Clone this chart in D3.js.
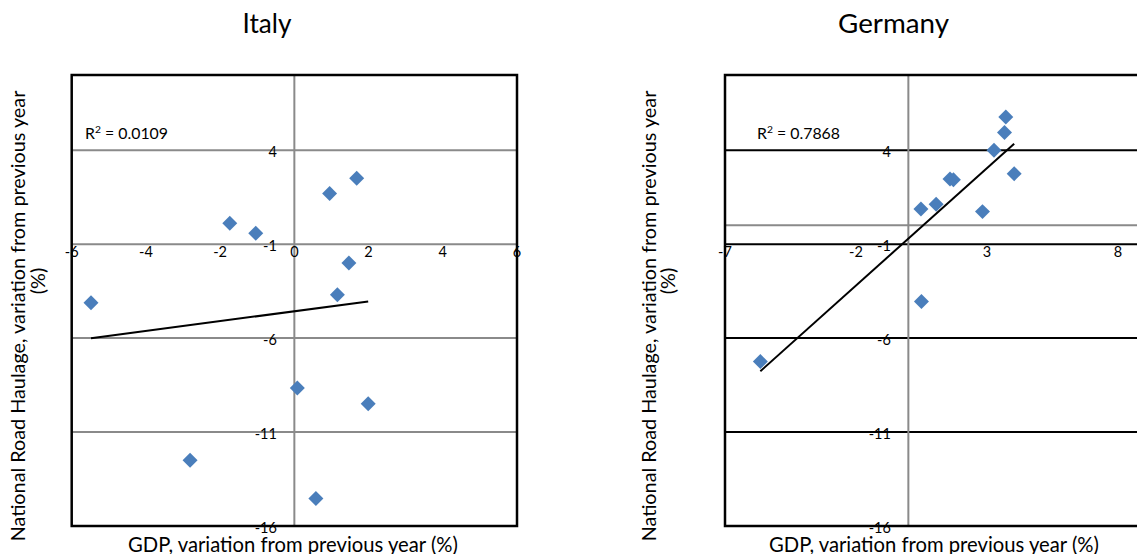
<!DOCTYPE html>
<html>
<head>
<meta charset="utf-8">
<script src="https://cdn.jsdelivr.net/npm/d3@7"></script>
<style>
  html, body { margin: 0; padding: 0; background: #fff; }
  svg { display: block; font-family: "Lato", "Open Sans", sans-serif; }
</style>
</head>
<body>
<svg id="chart" width="1137" height="554"></svg>
<script>
// GDP growth vs. national road haulage growth, year on year (%)
const italyGdp      = [-1.74, -1.04, 0.95, 1.68, 1.47, 1.16, -5.48, 0.08, 1.99, -2.81, 0.58];
const italyHaulage  = [0.11, -0.42, 1.69, 2.50, -2.01, -3.69, -4.12, -8.66, -9.49, -12.50, -14.54];
const germanyGdp     = [3.72, 3.67, 3.27, 4.04, 1.59, 1.72, 1.06, 0.48, 2.83, 0.50, -5.65];
const germanyHaulage = [5.77, 4.94, 3.99, 2.75, 2.47, 2.42, 1.12, 0.87, 0.73, -4.05, -7.25];

const italyXTicks   = [-6, -4, -2, 0, 2, 4, 6];
const germanyXTicks = [-7, -2, 3, 8];
const yTicks        = [-16, -11, -6, -1, 4];

const italyR2Label   = "0.0109";
const germanyR2Label = "0.7868";

const xTitle = "GDP, variation from previous year (%)";
const yTitleLines = ["National Road Haulage, variation from previous year", "(%)"];

const svg = d3.select("#chart");
const GRAY = "#8a8a8a";
const BLUE = "#4a7ebb";

// scale a text node so that it spans the given width
function fitWidth(sel, target) {
  const base = 20;
  sel.style("font-size", base + "px");
  const w = sel.node().getComputedTextLength();
  sel.style("font-size", (base * target / w) + "px");
  return sel;
}

function leastSquares(xs, ys) {
  const mx = d3.mean(xs), my = d3.mean(ys);
  let sxy = 0, sxx = 0;
  xs.forEach((x, i) => { sxy += (x - mx) * (ys[i] - my); sxx += (x - mx) * (x - mx); });
  const b = sxy / sxx;
  return { slope: b, intercept: my - b * mx };
}

const panels = [
  {
    title: "Italy", gdp: italyGdp, haul: italyHaulage, xTicks: italyXTicks,
    xDomain: [-6, 6], left: 71.7, width: 445.3, gridColor: GRAY, zeroLine: false,
    r2: italyR2Label, r2x: 85, titleX: 267, titleW: 49, xTitleX: 293,
    yTitleX: [25, 45]
  },
  {
    title: "Germany", gdp: germanyGdp, haul: germanyHaulage, xTicks: germanyXTicks,
    xDomain: [-7, 10], left: 725, width: 445.3, gridColor: "#000", zeroLine: true,
    r2: germanyR2Label, r2x: 757, titleX: 893.5, titleW: 111, xTitleX: 934,
    yTitleX: [656, 675]
  }
];

const plotTop = 75, plotBottom = 526;

panels.forEach(p => {
  const x = d3.scaleLinear().domain(p.xDomain).range([p.left, p.left + p.width]);
  const y = d3.scaleLinear().domain([-16, 8]).range([plotBottom, plotTop]);
  const g = svg.append("g");

  // horizontal gridlines
  g.append("g").selectAll("line").data(yTicks.filter(t => t > -16)).join("line")
    .attr("x1", x.range()[0]).attr("x2", x.range()[1])
    .attr("y1", d => y(d)).attr("y2", d => y(d))
    .attr("stroke", p.gridColor).attr("stroke-width", 2);

  // horizontal line through zero
  if (p.zeroLine) {
    g.append("line")
      .attr("x1", x.range()[0]).attr("x2", x.range()[1])
      .attr("y1", y(0)).attr("y2", y(0))
      .attr("stroke", GRAY).attr("stroke-width", 2);
  }

  // vertical axis at x = 0
  g.append("line")
    .attr("x1", x(0)).attr("x2", x(0))
    .attr("y1", plotTop).attr("y2", plotBottom)
    .attr("stroke", GRAY).attr("stroke-width", 2);

  // y tick labels next to the vertical axis
  g.append("g").selectAll("text").data(yTicks).join("text")
    .attr("x", x(0) - 17.5).attr("y", d => y(d) + 2)
    .attr("dy", "0.35em").attr("text-anchor", "end")
    .style("font-size", "14.5px").attr("fill", "#000")
    .text(d => d);

  // x tick labels below the -1 line
  g.append("g").selectAll("text").data(p.xTicks).join("text")
    .attr("x", d => x(d)).attr("y", y(-1) + 7.5)
    .attr("dy", "0.35em").attr("text-anchor", "middle")
    .style("font-size", "14.5px").attr("fill", "#000")
    .text(d => d);

  // data points
  const pts = p.gdp.map((v, i) => [v, p.haul[i]]);
  g.append("g").selectAll("path").data(pts).join("path")
    .attr("d", d3.symbol(d3.symbolSquare).size(112))
    .attr("transform", d => `translate(${x(d[0])},${y(d[1])}) rotate(45)`)
    .attr("fill", BLUE);

  // linear trendline over the data range
  const fit = leastSquares(p.gdp, p.haul);
  const [xMin, xMax] = d3.extent(p.gdp);
  g.append("line")
    .attr("x1", x(xMin)).attr("y1", y(fit.intercept + fit.slope * xMin))
    .attr("x2", x(xMax)).attr("y2", y(fit.intercept + fit.slope * xMax))
    .attr("stroke", "#000").attr("stroke-width", 2);

  // plot border
  g.append("rect")
    .attr("x", x.range()[0]).attr("y", plotTop)
    .attr("width", p.width).attr("height", plotBottom - plotTop)
    .attr("fill", "none").attr("stroke", "#000").attr("stroke-width", 2.5);

  // R² annotation
  const r2 = g.append("text").attr("x", p.r2x).attr("y", 139).attr("fill", "#000");
  r2.append("tspan").text("R");
  r2.append("tspan").attr("dy", -6).style("font-size", "0.65em").text("2");
  r2.append("tspan").attr("dy", 6).text(" = " + p.r2);
  fitWidth(r2, 83);

  // chart title
  fitWidth(g.append("text").attr("x", p.titleX).attr("y", 33.3)
    .attr("text-anchor", "middle").attr("fill", "#000").text(p.title), p.titleW);

  // x axis title
  fitWidth(g.append("text").attr("x", p.xTitleX).attr("y", 551.5)
    .attr("text-anchor", "middle").attr("fill", "#000").text(xTitle), 330);

  // y axis title, two lines
  const l1 = g.append("text")
    .attr("transform", `translate(${p.yTitleX[0]},316) rotate(-90)`)
    .attr("text-anchor", "middle").attr("fill", "#000").text(yTitleLines[0]);
  fitWidth(l1, 451);
  g.append("text")
    .attr("transform", `translate(${p.yTitleX[1]},281) rotate(-90)`)
    .attr("text-anchor", "middle").attr("fill", "#000")
    .style("font-size", l1.style("font-size")).text(yTitleLines[1]);
});
</script>
</body>
</html>
